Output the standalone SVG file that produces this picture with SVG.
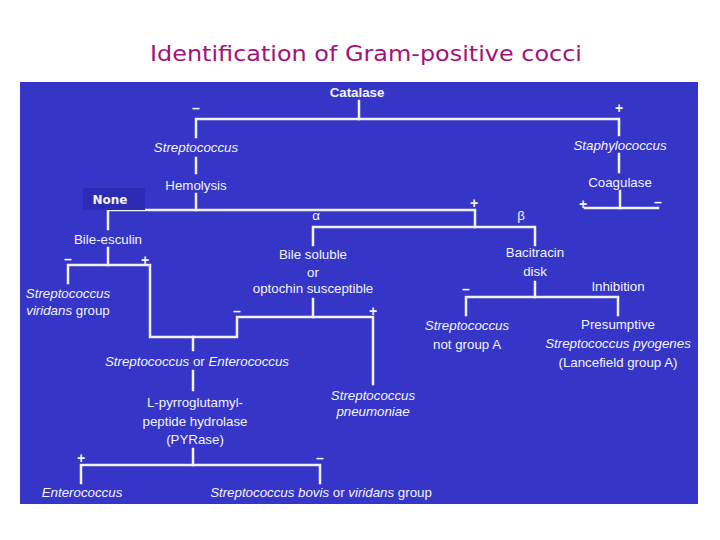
<svg xmlns="http://www.w3.org/2000/svg" width="720" height="540" viewBox="0 0 720 540">
<style>
.t{font-family:"Liberation Sans",Arial,Helvetica,sans-serif;font-size:13.3px;fill:#f4f4f8;text-anchor:middle}
.i{font-style:italic}
.n{font-style:normal}
.b{font-weight:bold}
.s{font-family:"Liberation Sans",Arial,sans-serif;font-size:14px;font-weight:bold;fill:#f4f4f8;text-anchor:middle}
.c{fill:none;stroke:#f2f2f6;stroke-width:2.5;stroke-linecap:square;stroke-linejoin:miter}
</style>
<rect width="720" height="540" fill="#ffffff"/>
<text x="366" y="61" font-family="'DejaVu Sans',sans-serif" font-size="22" fill="#a3127a" text-anchor="middle" textLength="432" lengthAdjust="spacingAndGlyphs">Identification of Gram-positive cocci</text>
<rect id="panel" x="20" y="82" width="678" height="422" fill="#3535c8"/>
<g id="connectors" class="c">
<path d="M359 101V119"/>
<path d="M196 137V119H619V135"/>
<path d="M196 158V173"/>
<path d="M196 194V210"/>
<path d="M108 229V210H475V227"/>
<path d="M313 245V227H535V245"/>
<path d="M619 154V172"/>
<path d="M620 191V208"/>
<path d="M585 208H658"/>
<path d="M108 248V265"/>
<path d="M68 283V265H150V337H237V317H373V384"/>
<path d="M313 299V317"/>
<path d="M193 337V350"/>
<path d="M193 371V390"/>
<path d="M193 449V465"/>
<path d="M81 483V465H320V483"/>
<path d="M535 282V297"/>
<path d="M466 315V297H618V315"/>
</g>
<g id="catalase"><text class="t b" x="357" y="97" font-size="14.5">Catalase</text></g>
<g id="signs">
<text class="s" x="196" y="113">–</text>
<text class="s" x="619" y="113">+</text>
<text class="s" x="583" y="209">+</text>
<text class="s" x="658" y="207">–</text>
<text class="s" x="474" y="208">+</text>
<text class="s" x="68" y="264">–</text>
<text class="s" x="145" y="265">+</text>
<text class="s" x="237" y="316">–</text>
<text class="s" x="373" y="316">+</text>
<text class="s" x="466" y="294">–</text>
<text class="s" x="81" y="463">+</text>
<text class="s" x="320" y="463">–</text>
<text class="t" x="316" y="220" font-size="15">α</text>
<text class="t" x="521" y="220" font-size="15">β</text>
</g>
<g id="streptococcus"><text class="t i" x="196" y="152">Streptococcus</text></g>
<g id="hemolysis"><text class="t" x="196" y="190">Hemolysis</text></g>
<g id="staphylococcus"><text class="t i" x="620" y="150">Staphylococcus</text></g>
<g id="coagulase"><text class="t" x="620" y="187">Coagulase</text></g>
<g id="none"><rect x="83" y="188" width="62" height="22" fill="#2b2bb6"/><text x="110" y="204" font-family="'DejaVu Sans',Verdana,sans-serif" font-size="12" font-weight="bold" fill="#f4f4f8" text-anchor="middle">None</text></g>
<g id="bile-esculin"><text class="t" x="108" y="244">Bile-esculin</text></g>
<g id="viridans"><text class="t i" x="68" y="298">Streptococcus</text><text class="t" x="68" y="315"><tspan class="i">viridans</tspan> group</text></g>
<g id="bile-soluble"><text class="t" x="313" y="259">Bile soluble</text><text class="t" x="313" y="277">or</text><text class="t" x="313" y="293">optochin susceptible</text></g>
<g id="strep-or-entero"><text class="t" x="197" y="366"><tspan class="i">Streptococcus</tspan> or <tspan class="i">Enterococcus</tspan></text></g>
<g id="pneumoniae"><text class="t i" x="373" y="400">Streptococcus</text><text class="t i" x="373" y="416">pneumoniae</text></g>
<g id="pyrase"><text class="t" x="195" y="407">L-pyrroglutamyl-</text><text class="t" x="195" y="426">peptide hydrolase</text><text class="t" x="195" y="444">(PYRase)</text></g>
<g id="enterococcus"><text class="t i" x="82" y="497">Enterococcus</text></g>
<g id="bovis"><text class="t" x="321" y="497"><tspan class="i">Streptococcus bovis</tspan> or <tspan class="i">viridans</tspan> group</text></g>
<g id="bacitracin"><text class="t" x="535" y="257">Bacitracin</text><text class="t" x="535" y="276">disk</text></g>
<g id="inhibition"><text class="t" x="618" y="291">Inhibition</text></g>
<g id="not-group-a"><text class="t i" x="467" y="330">Streptococcus</text><text class="t" x="467" y="349">not group A</text></g>
<g id="pyogenes"><text class="t" x="618" y="329">Presumptive</text><text class="t i" x="618" y="348">Streptococcus pyogenes</text><text class="t" x="618" y="367">(Lancefield group A)</text></g>
</svg>
